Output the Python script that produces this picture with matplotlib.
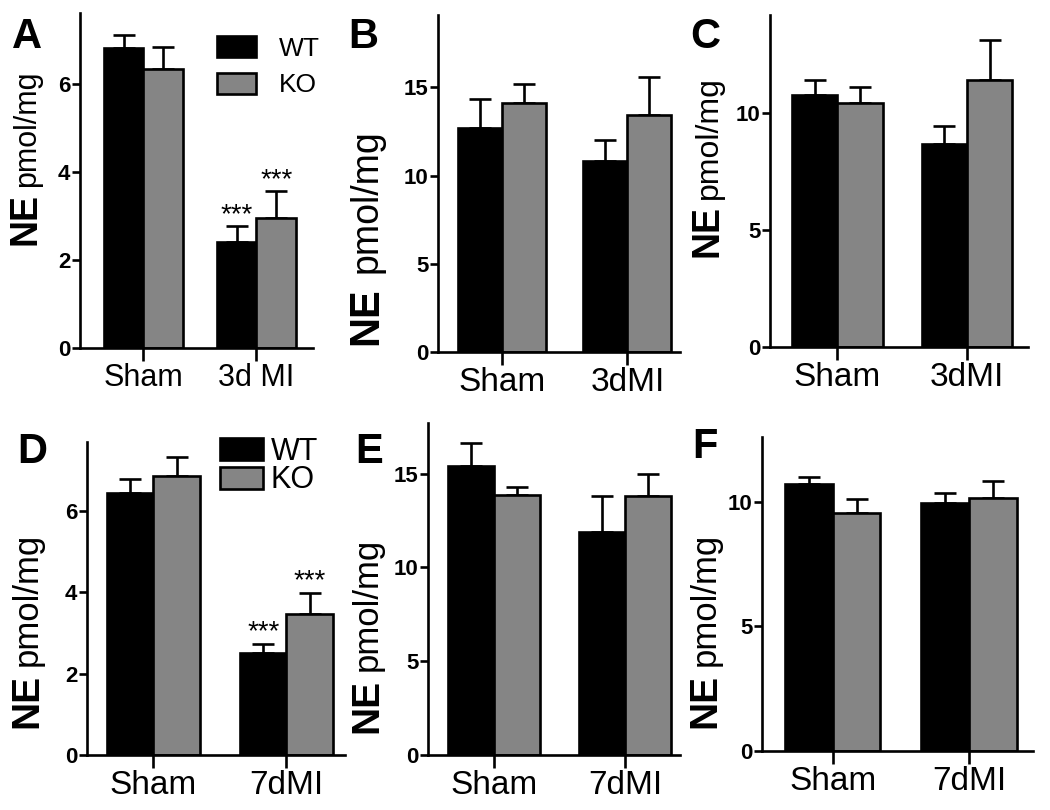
import numpy as np
import matplotlib.pyplot as plt

plt.rcParams['font.family'] = ['Liberation Sans', 'DejaVu Sans']

# data (mean, SEM)
labels_a = ['Sham', '3d MI']
labels_bc = ['Sham', '3dMI']
labels_def = ['Sham', '7dMI']

a_wt = [6.80, 2.41]
a_wt_err = [0.29, 0.36]
a_ko = [6.33, 2.96]
a_ko_err = [0.49, 0.60]

b_wt = [12.7, 10.85]
b_wt_err = [1.65, 1.15]
b_ko = [14.1, 13.45]
b_ko_err = [1.1, 2.15]

c_wt = [10.77, 8.7]
c_wt_err = [0.65, 0.75]
c_ko = [10.42, 11.4]
c_ko_err = [0.72, 1.75]

d_wt = [6.45, 2.52]
d_wt_err = [0.35, 0.22]
d_ko = [6.87, 3.46]
d_ko_err = [0.46, 0.53]

e_wt = [15.4, 11.9]
e_wt_err = [1.25, 1.9]
e_ko = [13.85, 13.8]
e_ko_err = [0.45, 1.2]

f_wt = [10.7, 9.95]
f_wt_err = [0.3, 0.4]
f_ko = [9.55, 10.15]
f_ko_err = [0.55, 0.7]

W, H = 1050, 810
fig = plt.figure(figsize=(10.5, 8.1), dpi=100)

grey = '#858585'
lw = 1.9


def px_rect(x0, x1, top, bottom):
    return [x0 / W, (H - bottom) / H, (x1 - x0) / W, (bottom - top) / H]


# per panel: letter, labels, data, axes rect in px, xlim, ymax, yticks,
# y label baseline x / start y / font sizes, letter position, x label size, legend
panels = [
    ('A', labels_a, a_wt, a_wt_err, a_ko, a_ko_err, (80, 313, 13, 348), (-0.56, 1.50), 7.6, [0, 2, 4, 6],
     (35, 245, 27, 22, 6), (12, 48), 22, dict(xy=(217, 36), fs=19, hl=1.46, hh=0.85, ls=0.45, tp=0.9)),
    ('B', labels_bc, b_wt, b_wt_err, b_ko, b_ko_err, (438, 680, 15, 352), (-0.51, 1.42), 19.1, [0, 5, 10, 15],
     (377, 345, 30, 27, 14), (348, 48), 24, None),
    ('C', labels_bc, c_wt, c_wt_err, c_ko, c_ko_err, (770, 1028, 15, 347), (-0.52, 1.47), 14.2, [0, 5, 10],
     (717, 257, 27, 23, 6), (690, 48), 24, None),
    ('D', labels_def, d_wt, d_wt_err, d_ko, d_ko_err, (87, 345, 442, 755), (-0.50, 1.44), 7.7, [0, 2, 4, 6],
     (37, 728, 28, 25, 8), (17, 463), 24, dict(xy=(220, 437), fs=22, hl=1.4, hh=0.72, ls=-0.05, tp=0.25)),
    ('E', labels_def, e_wt, e_wt_err, e_ko, e_ko_err, (428, 680, 423, 755), (-0.50, 1.42), 17.7, [0, 5, 10, 15],
     (377, 733, 28, 25, 8), (355, 463), 24, None),
    ('F', labels_def, f_wt, f_wt_err, f_ko, f_ko_err, (762, 1033, 437, 751), (-0.52, 1.47), 12.6, [0, 5, 10],
     (715, 728, 28, 25, 8), (692, 458), 24, None),
]

bw = 0.35
for (letter, labels, wt, wt_err, ko, ko_err, rect, xlim, ymax, yticks,
     ylab, let_xy, xfs, leg) in panels:
    ax = fig.add_axes(px_rect(*rect))
    x = np.arange(len(labels))
    ax.bar(x - bw / 2, wt, bw, color='black', edgecolor='black', linewidth=lw, label='WT', zorder=2)
    ax.bar(x + bw / 2, ko, bw, color=grey, edgecolor='black', linewidth=lw, label='KO', zorder=2)
    ax.errorbar(x - bw / 2, wt, yerr=[np.zeros(len(wt)), wt_err], fmt='none', ecolor='black',
                elinewidth=lw, capsize=8, capthick=lw, zorder=1)
    ax.errorbar(x + bw / 2, ko, yerr=[np.zeros(len(ko)), ko_err], fmt='none', ecolor='black',
                elinewidth=lw, capsize=8, capthick=lw, zorder=1)
    ax.set_xlim(*xlim)
    ax.set_ylim(0, ymax)
    ax.set_yticks(yticks)
    ax.set_xticks(x)
    ax.set_xticklabels(labels, fontsize=xfs)
    for t in ax.get_yticklabels():
        t.set_fontweight('bold')
        t.set_fontsize(16)
    ax.tick_params(axis='y', length=6, width=lw, pad=1)
    ax.tick_params(axis='x', length=9, width=lw, pad=2)
    for s in ['top', 'right']:
        ax.spines[s].set_visible(False)
    for s in ['left', 'bottom']:
        ax.spines[s].set_linewidth(lw)

    if leg is not None:
        i = 1
        ax.annotate('***', (x[i] - bw / 2, wt[i] + wt_err[i]), xytext=(0, 3), textcoords='offset points',
                    ha='center', va='baseline', fontsize=20)
        ax.annotate('***', (x[i] + bw / 2, ko[i] + ko_err[i]), xytext=(0, 3), textcoords='offset points',
                    ha='center', va='baseline', fontsize=20)
        ax.legend(loc='upper left', bbox_to_anchor=(leg['xy'][0] / W, (H - leg['xy'][1]) / H),
                  bbox_transform=fig.transFigure, frameon=False, fontsize=leg['fs'],
                  handlelength=leg['hl'], handleheight=leg['hh'], handletextpad=leg['tp'],
                  labelspacing=leg['ls'], borderpad=0, borderaxespad=0)

    # y label: bold NE followed by pmol/mg, along the same baseline
    bx, by, ne_fs, pm_fs, gap = ylab
    t1 = fig.text(bx / W, (H - by) / H, 'NE', fontsize=ne_fs, fontweight='bold', rotation=90,
                  rotation_mode='anchor', ha='left', va='baseline')
    fig.canvas.draw()
    ext = t1.get_window_extent()
    fig.text(bx / W, (H - by + ext.height + gap) / H, 'pmol/mg', fontsize=pm_fs, rotation=90,
             rotation_mode='anchor', ha='left', va='baseline')

    fig.text(let_xy[0] / W, (H - let_xy[1]) / H, letter, fontsize=30, fontweight='bold',
             ha='left', va='baseline')

fig.savefig('out.png', dpi=100)
